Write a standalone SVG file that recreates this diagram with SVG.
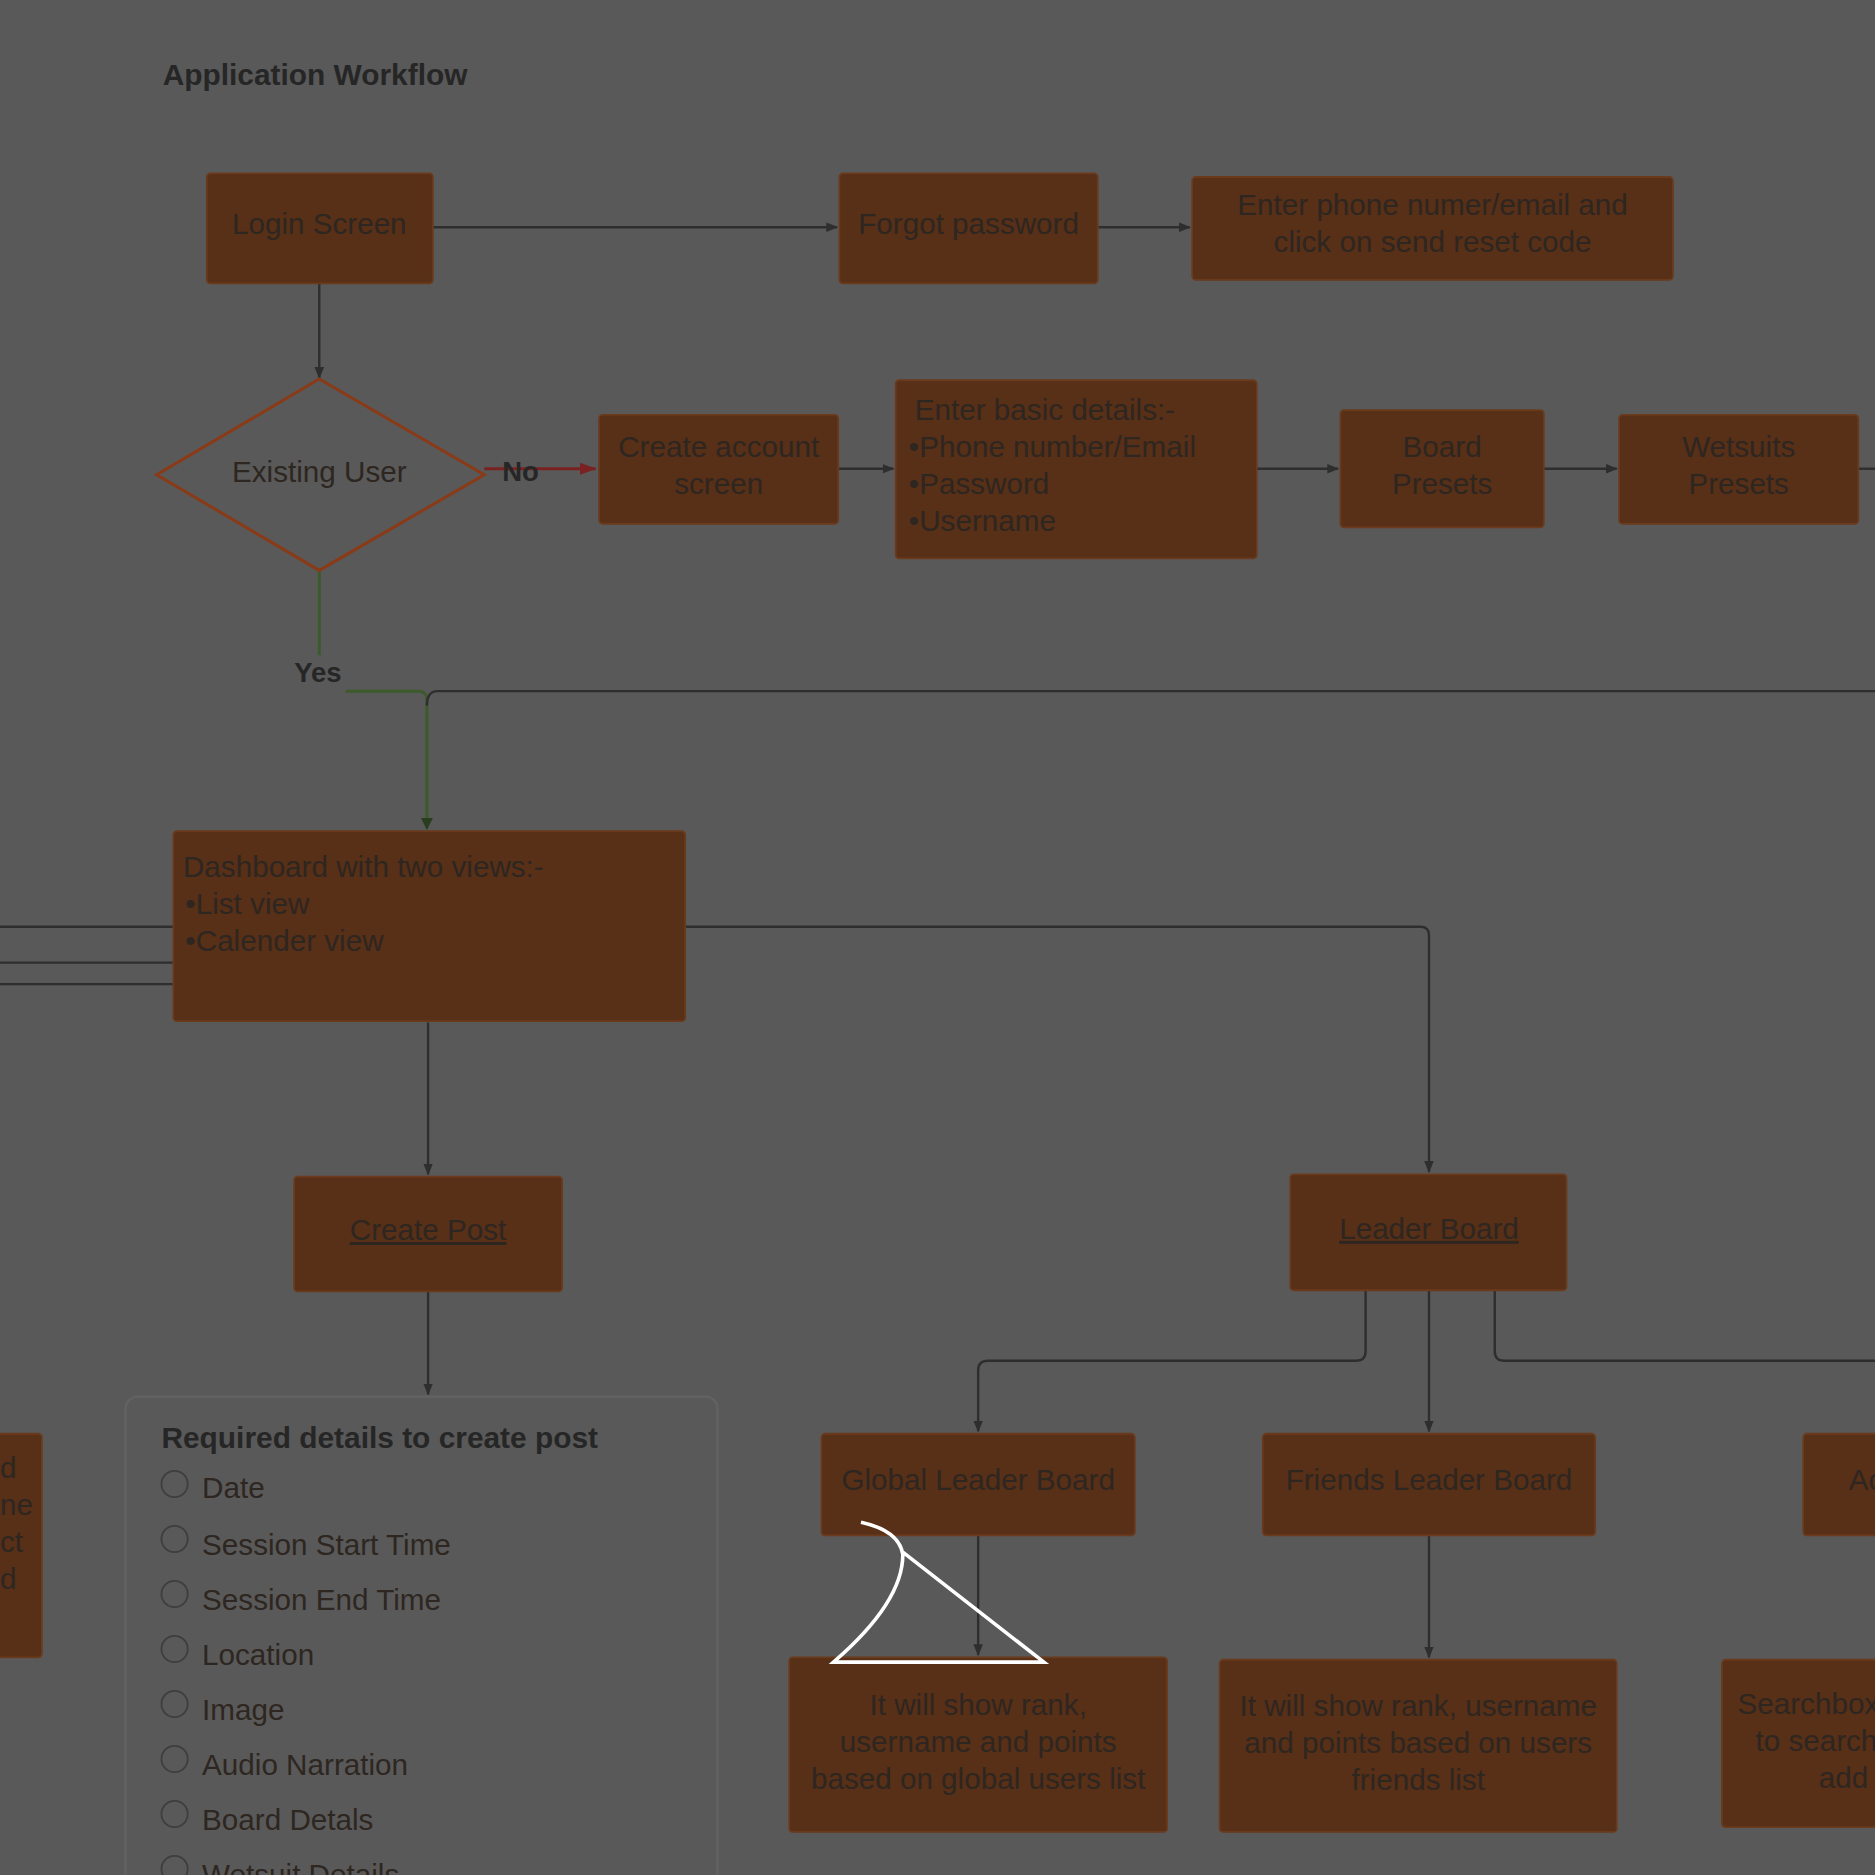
<svg xmlns="http://www.w3.org/2000/svg" width="1875" height="1875" viewBox="0 0 1875 1875">
<defs>
<style>
.b{fill:#582f17;stroke:#6a3a1d;stroke-width:1.5}
.t{font-family:"Liberation Sans",Arial,sans-serif;font-size:24.8px;fill:#2e2620}
.c{fill:none;stroke:#2e2e2e;stroke-width:2}
.h{font-family:"Liberation Sans",Arial,sans-serif;font-size:25px;font-weight:bold;fill:#262626}
.r{fill:none;stroke:#3e3e3e;stroke-width:1.5}
</style>
<marker id="a" markerWidth="10" markerHeight="8" refX="9" refY="4" orient="auto" markerUnits="userSpaceOnUse"><path d="M0,0L10,4L0,8z" fill="#2e2e2e"/></marker>
<marker id="ar" markerWidth="14" markerHeight="10" refX="13" refY="5" orient="auto" markerUnits="userSpaceOnUse"><path d="M0,0L14,5L0,10z" fill="#7a2222"/></marker>
<marker id="ag" markerWidth="10" markerHeight="10" refX="9" refY="5" orient="auto" markerUnits="userSpaceOnUse"><path d="M0,0L10,5L0,10z" fill="#2a3d1e"/></marker>
</defs>
<rect width="1875" height="1875" fill="#595959"/>
<g transform="scale(1.1958)">
<text x="136" y="71" class="h">Application Workflow</text>
<g id="connectors">
<path class="c" d="M362,190H700" marker-end="url(#a)"/>
<path class="c" d="M918,190H995" marker-end="url(#a)"/>
<path class="c" d="M267,237V316" marker-end="url(#a)"/>
<path d="M405,392H498" fill="none" stroke="#7a2222" stroke-width="2.5" marker-end="url(#ar)"/>
<path class="c" d="M701,392H747" marker-end="url(#a)"/>
<path class="c" d="M1051,392H1119" marker-end="url(#a)"/>
<path class="c" d="M1291,392H1352" marker-end="url(#a)"/>
<path class="c" d="M1554,392H1568"/>
<path d="M267,477V548M289,578H350Q357,578 357,585V693" fill="none" stroke="#3d5a2a" stroke-width="2.5" marker-end="url(#ag)"/>
<path class="c" d="M357,590Q357,578 366,578H1568"/>
<path class="c" d="M0,775H145M0,805H145M0,823H145"/>
<path class="c" d="M573,775H1188Q1195,775 1195,782V980" marker-end="url(#a)"/>
<path class="c" d="M358,855V982" marker-end="url(#a)"/>
<path class="c" d="M358,1080V1166" marker-end="url(#a)"/>
<path class="c" d="M1142,1079V1130Q1142,1138 1134,1138H826Q818,1138 818,1146V1197" marker-end="url(#a)"/>
<path class="c" d="M1195,1079V1197" marker-end="url(#a)"/>
<path class="c" d="M1250,1079V1130Q1250,1138 1258,1138H1568"/>
<path class="c" d="M818,1284V1384" marker-end="url(#a)"/>
<path class="c" d="M1195,1284V1386" marker-end="url(#a)"/>
</g>
<text x="420" y="402" class="h" style="font-size:23px">No</text>
<text x="246" y="570" class="h" style="font-size:23px">Yes</text>
<g id="login"><rect class="b" x="173" y="145" width="189" height="92" rx="3"/><text class="t" x="267" y="196" text-anchor="middle">Login Screen</text></g>
<g id="forgot"><rect class="b" x="702" y="145" width="216" height="92" rx="3"/><text class="t" x="810" y="196" text-anchor="middle">Forgot password</text></g>
<g id="reset"><rect class="b" x="997" y="148" width="402" height="86" rx="3"/><text class="t" x="1198" y="180" text-anchor="middle">Enter phone numer/email and</text><text class="t" x="1198" y="211" text-anchor="middle">click on send reset code</text></g>
<g id="existing"><path d="M267,317L405,397L267,477L131,397Z" fill="none" stroke="#8a3a16" stroke-width="2.5"/><text class="t" x="267" y="403" text-anchor="middle">Existing User</text></g>
<g id="create"><rect class="b" x="501" y="347" width="200" height="91" rx="3"/><text class="t" x="601" y="382" text-anchor="middle">Create account</text><text class="t" x="601" y="413" text-anchor="middle">screen</text></g>
<g id="basic"><rect class="b" x="749" y="318" width="302" height="149" rx="3"/><text class="t" x="765" y="351">Enter basic details:-</text><text class="t" x="760" y="382">•Phone number/Email</text><text class="t" x="760" y="413">•Password</text><text class="t" x="760" y="444">•Username</text></g>
<g id="board"><rect class="b" x="1121" y="343" width="170" height="98" rx="3"/><text class="t" x="1206" y="382" text-anchor="middle">Board</text><text class="t" x="1206" y="413" text-anchor="middle">Presets</text></g>
<g id="wetsuits"><rect class="b" x="1354" y="347" width="200" height="91" rx="3"/><text class="t" x="1454" y="382" text-anchor="middle">Wetsuits</text><text class="t" x="1454" y="413" text-anchor="middle">Presets</text></g>
<g id="dashboard"><rect class="b" x="145" y="695" width="428" height="159" rx="3"/><text class="t" x="153" y="733">Dashboard with two views:-</text><text class="t" x="155" y="764">•List view</text><text class="t" x="155" y="795">•Calender view</text></g>
<g id="createpost"><rect class="b" x="246" y="984" width="224" height="96" rx="3"/><text class="t" x="358" y="1037" text-anchor="middle" text-decoration="underline">Create Post</text></g>
<g id="leader"><rect class="b" x="1079" y="982" width="231" height="97" rx="3"/><text class="t" x="1195" y="1036" text-anchor="middle" text-decoration="underline">Leader Board</text></g>
<g id="global"><rect class="b" x="687" y="1199" width="262" height="85" rx="3"/><text class="t" x="818" y="1246" text-anchor="middle">Global Leader Board</text></g>
<g id="friends"><rect class="b" x="1056" y="1199" width="278" height="85" rx="3"/><text class="t" x="1195" y="1246" text-anchor="middle">Friends Leader Board</text></g>
<g id="ac"><rect class="b" x="1508" y="1199" width="80" height="85" rx="3"/><text class="t" x="1546" y="1246">Ac</text></g>
<g id="globaltext"><rect class="b" x="660" y="1386" width="316" height="146" rx="3"/><text class="t" x="818" y="1434" text-anchor="middle">It will show rank,</text><text class="t" x="818" y="1465" text-anchor="middle">username and points</text><text class="t" x="818" y="1496" text-anchor="middle">based on global users list</text></g>
<g id="friendstext"><rect class="b" x="1020" y="1388" width="332" height="144" rx="3"/><text class="t" x="1186" y="1435" text-anchor="middle">It will show rank, username</text><text class="t" x="1186" y="1466" text-anchor="middle">and points based on users</text><text class="t" x="1186" y="1497" text-anchor="middle">friends list</text></g>
<g id="search"><rect class="b" x="1440" y="1388" width="160" height="140" rx="3"/><text class="t" x="1453" y="1433">Searchbox</text><text class="t" x="1468" y="1464">to search</text><text class="t" x="1521" y="1495">add</text></g>
<g id="leftbox"><rect class="b" x="-20" y="1199" width="55" height="187" rx="3"/><text class="t" x="0" y="1236">d</text><text class="t" x="0" y="1267">ne</text><text class="t" x="0" y="1298">ct</text><text class="t" x="0" y="1329">d</text></g>
<g id="form"><rect x="105" y="1168" width="495" height="420" rx="10" fill="#595959" stroke="#626262" stroke-width="2"/>
<text class="h" x="135" y="1211">Required details to create post</text>
<g class="t"><text x="169" y="1253">Date</text><text x="169" y="1300">Session Start Time</text><text x="169" y="1346">Session End Time</text><text x="169" y="1392">Location</text><text x="169" y="1438">Image</text><text x="169" y="1484">Audio Narration</text><text x="169" y="1530">Board Detals</text><text x="169" y="1576">Wetsuit Details</text></g>
<circle class="r" cx="146" cy="1241" r="11"/><circle class="r" cx="146" cy="1287" r="11"/><circle class="r" cx="146" cy="1333" r="11"/><circle class="r" cx="146" cy="1379" r="11"/><circle class="r" cx="146" cy="1425" r="11"/><circle class="r" cx="146" cy="1471" r="11"/><circle class="r" cx="146" cy="1517" r="11"/><circle class="r" cx="146" cy="1563" r="11"/>
</g>
<path d="M720,1273Q752,1280 755,1300Q755,1340 697,1390L873,1390L755,1298" fill="none" stroke="#fff" stroke-width="3"/>
</g>
</svg>
